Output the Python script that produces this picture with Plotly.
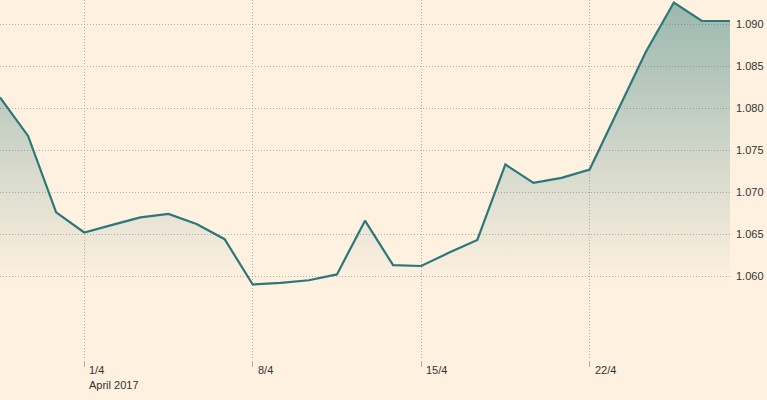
import plotly.graph_objects as go

dates = [
    "2017-03-28 12:00", "2017-03-29 16:00", "2017-03-30 20:00", "2017-04-01 00:00",
    "2017-04-02 04:00", "2017-04-03 08:00", "2017-04-04 12:00", "2017-04-05 16:00",
    "2017-04-06 20:00", "2017-04-08 00:00", "2017-04-09 04:00", "2017-04-10 08:00",
    "2017-04-11 12:00", "2017-04-12 16:00", "2017-04-13 20:00", "2017-04-15 00:00",
    "2017-04-16 04:00", "2017-04-17 08:00", "2017-04-18 12:00", "2017-04-19 16:00",
    "2017-04-20 20:00", "2017-04-22 00:00", "2017-04-23 04:00", "2017-04-24 08:00",
    "2017-04-25 12:00", "2017-04-26 16:00", "2017-04-27 20:00",
]
values = [
    1.0813, 1.0767, 1.0676, 1.0652, 1.0661, 1.0670, 1.0674, 1.0662, 1.0644,
    1.0590, 1.0592, 1.0595, 1.0602, 1.0666, 1.0613, 1.0612, 1.0628, 1.0643,
    1.0733, 1.0711, 1.0717, 1.0727, 1.0797, 1.0867, 1.0926, 1.0904, 1.0904,
]
tick_dates = ["2017-04-01", "2017-04-08", "2017-04-15", "2017-04-22"]
tick_labels = ["1/4", "8/4", "15/4", "22/4"]
period_label = "April 2017"
y_ticks = [1.060, 1.065, 1.070, 1.075, 1.080, 1.085, 1.090]
baseline = min(values)

BG = "#FFF1E0"
LINE = "#2B7779"
GRID = "#B8AEA2"
TEXT = "#333333"
FONT = "Liberation Sans, Arial, sans-serif"

fig = go.Figure()
fig.add_trace(go.Scatter(
    x=dates, y=[baseline] * len(dates), mode="lines",
    line=dict(width=0), hoverinfo="skip", showlegend=False,
))
fig.add_trace(go.Scatter(
    x=dates, y=values, mode="lines",
    line=dict(color=LINE, width=2.2),
    fill="tonexty",
    fillgradient=dict(
        type="vertical",
        colorscale=[[0, "rgba(43,119,121,0.0)"], [1, "rgba(43,119,121,0.47)"]],
    ),
    showlegend=False,
))

for d, t in zip(tick_dates, tick_labels):
    fig.add_annotation(
        x=d, y=0, xref="x", yref="paper", text=t, showarrow=False,
        xanchor="left", yanchor="top", align="left", xshift=3, yshift=-2,
        font=dict(family=FONT, size=11, color=TEXT),
    )
fig.add_annotation(
    x=tick_dates[0], y=0, xref="x", yref="paper", text=period_label, showarrow=False,
    xanchor="left", yanchor="top", align="left", xshift=3, yshift=-17,
    font=dict(family=FONT, size=11, color=TEXT),
)

fig.update_layout(
    width=767, height=400,
    margin=dict(l=0, r=37, t=0, b=40, autoexpand=False),
    paper_bgcolor=BG, plot_bgcolor=BG,
    xaxis=dict(
        range=[dates[0], dates[-1]],
        tickmode="array", tickvals=tick_dates, showticklabels=False,
        ticks="outside", ticklen=6, tickcolor=GRID, tickwidth=1,
        showgrid=True, gridcolor=GRID, griddash="1px,2px", gridwidth=1,
        zeroline=False, showline=False,
    ),
    yaxis=dict(
        range=[1.0500, 1.0929], side="right",
        tickmode="array", tickvals=y_ticks, tickformat=".3f",
        ticks="", ticklabelstandoff=5,
        tickfont=dict(family=FONT, size=11, color=TEXT),
        showgrid=True, gridcolor=GRID, griddash="1px,2px", gridwidth=1,
        zeroline=False, showline=False,
    ),
)

fig.write_html(
    "out.html",
    config={"displayModeBar": False},
    post_script="document.body.style.margin='0px';document.body.style.background='" + BG + "';",
)
